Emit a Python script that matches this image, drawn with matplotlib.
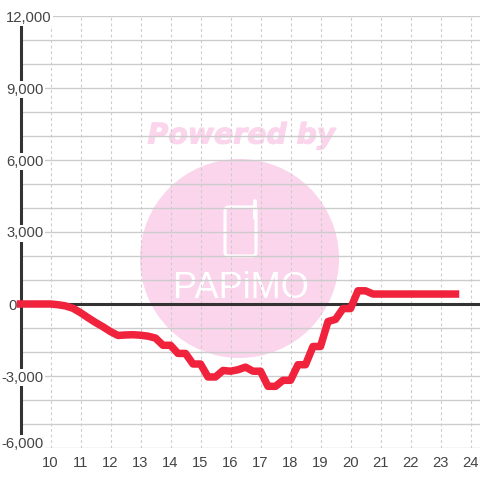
import matplotlib
matplotlib.use("Agg")
import matplotlib.pyplot as plt
import matplotlib.patheffects as pe
from matplotlib.patches import Circle, FancyBboxPatch

hours = [9, 9.25, 9.5, 9.75, 10, 10.25, 10.5, 10.75, 11, 11.25, 11.5, 11.75,
         12, 12.25, 12.5, 12.75, 13, 13.25, 13.5, 13.75, 14, 14.25, 14.5, 14.75,
         15, 15.25, 15.5, 15.75, 16, 16.25, 16.5, 16.75, 17, 17.25, 17.5, 17.75,
         18, 18.25, 18.5, 18.75, 19, 19.25, 19.5, 19.75, 20, 20.25, 20.5, 20.75,
         21, 21.25, 21.5, 21.75, 22, 22.25, 22.5, 22.75, 23, 23.25, 23.5]
values = [0, 0, 0, 0, 0, -30, -80, -180, -360, -570, -770, -950,
          -1150, -1310, -1290, -1280, -1300, -1340, -1420, -1720, -1720, -2060, -2060, -2500,
          -2500, -3040, -3040, -2770, -2800, -2740, -2630, -2800, -2800, -3430, -3430, -3180,
          -3180, -2530, -2530, -1770, -1770, -730, -640, -190, -190, 550, 550, 415,
          415, 415, 415, 415, 415, 415, 415, 415, 415, 415, 415]
x_ticks = list(range(10, 25))
y_major = [-6000, -3000, 0, 3000, 6000, 9000, 12000]
y_labels = ["-6,000", "-3,000", "0", "3,000", "6,000", "9,000", "12,000"]

# label offsets in pixels from the axis line, the chart does not align them
label_right = {"-6,000": 23, "-3,000": 23, "0": -4, "3,000": 23, "6,000": 23, "9,000": 23, "12,000": 31}
label_shift = {"-6,000": 6}

plt.rcParams["font.family"] = ["Liberation Sans", "DejaVu Sans"]
fig = plt.figure(figsize=(4.8, 4.8), dpi=100)
ax = fig.add_axes([20.5 / 480, 32 / 480, 459.5 / 480, 432 / 480])
ax.set_zorder(5)
ax.patch.set_visible(False)
ax.set_xlim(9, 9 + 459.5 / 30)
ax.set_ylim(-6000, 12000)

# watermark goes behind everything
pink = "#fbd5ec"
fig.add_artist(Circle((239.5 / 480, 221.5 / 480), 99.5 / 480, color=pink, lw=0, transform=fig.transFigure))
fig.text(241.5 / 480, 344.5 / 480, "Powered by", color=pink, fontsize=20.4, ha="center", va="center",
         family="DejaVu Sans", weight="bold", style="oblique",
         path_effects=[pe.withStroke(linewidth=0.8, foreground=pink)])
fig.add_artist(FancyBboxPatch((225 / 480, 224 / 480), 31 / 480, 49 / 480, boxstyle="round,pad=0,rounding_size=0.008",
                              fc="none", ec="white", lw=2.2, transform=fig.transFigure))
fig.add_artist(plt.Line2D([255 / 480, 255 / 480], [262 / 480, 279 / 480], color="white", lw=2.8,
                          solid_capstyle="round", transform=fig.transFigure))
fig.text(240.5 / 480, 191 / 480, "PAPiMO", color="white", fontsize=26, ha="center", va="center")

ax.set_xticks(x_ticks)
ax.set_yticks(y_major)
ax.set_yticks(range(-6000, 12001, 1000), minor=True)
ax.set_yticklabels([])
ax.tick_params(axis="both", which="both", length=0)
ax.tick_params(axis="x", labelsize=10.6, labelcolor="#444444", pad=5.5)
ax.grid(True, axis="y", which="both", color="#cccccc", lw=1.0)
ax.grid(True, axis="x", color="#cccccc", lw=0.8, ls=(0, (2.5, 2.5)))
ax.set_axisbelow(True)

for name in ["top", "right", "bottom"]:
    ax.spines[name].set_visible(False)
ax.spines["left"].set_color("#333333")
ax.spines["left"].set_linewidth(2.2)

ax.axhline(0, color="#333333", lw=2.2, zorder=2)
ax.plot(hours, values, color="#f0223c", lw=5.4, solid_joinstyle="round", solid_capstyle="projecting",
        clip_on=False, zorder=4)

for v, lab in zip(y_major, y_labels):
    ax.annotate(lab, xy=(0, v), xycoords=("axes fraction", "data"),
                xytext=(label_right[lab], label_shift.get(lab, 0) - 1.5),
                textcoords="offset pixels", ha="right", va="center", fontsize=10.6, color="#444444",
                annotation_clip=False, zorder=6,
                bbox=dict(fc="white", ec="none", pad=1) if lab != "0" else None)

fig.savefig("out.png", dpi=100)
